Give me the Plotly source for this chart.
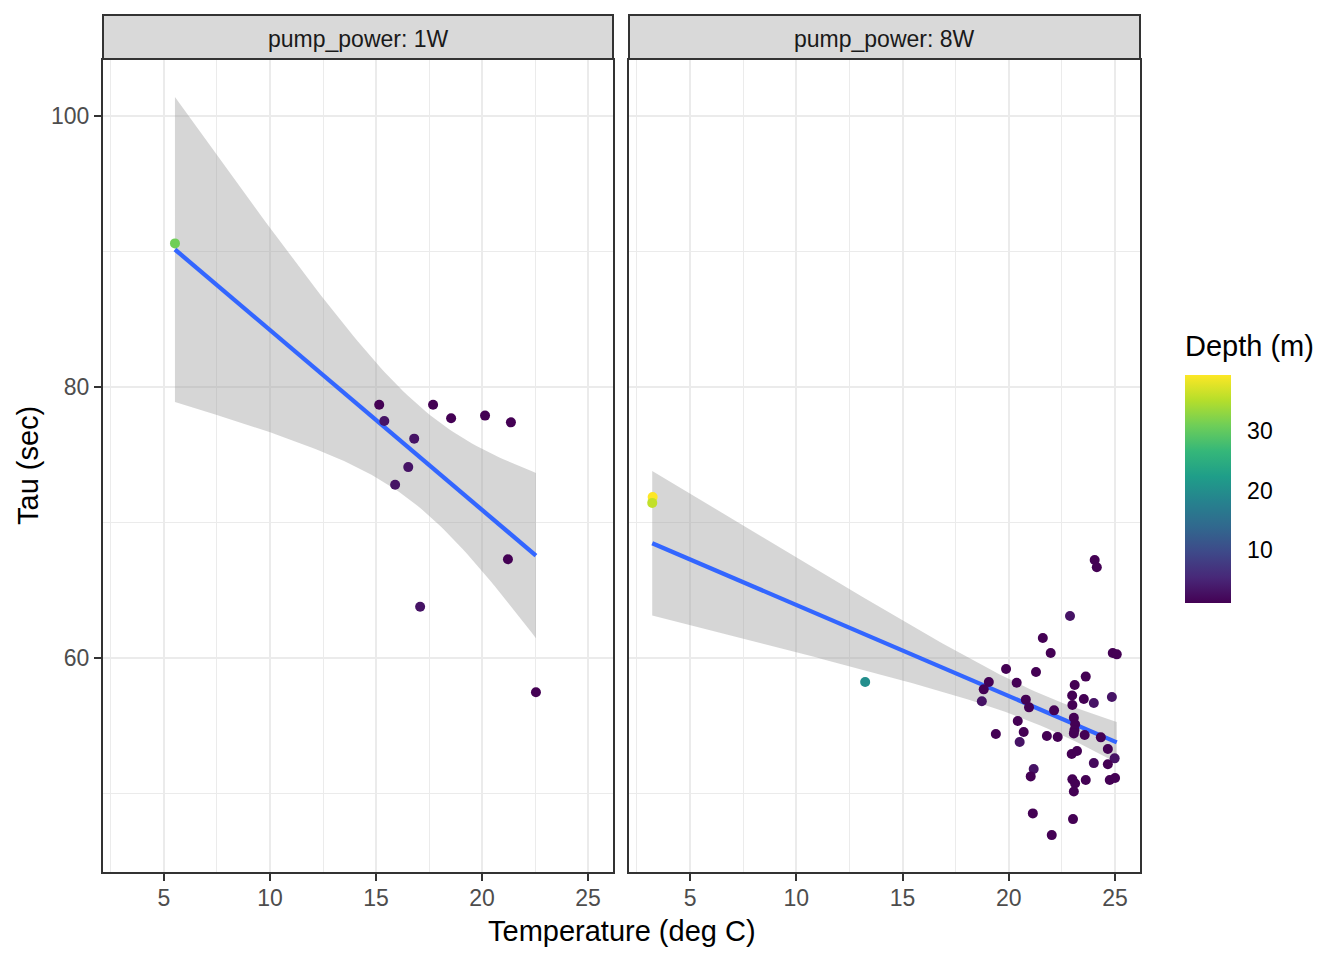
import math
import numpy as np
import plotly.graph_objects as go

# ---------------- data ----------------
panel_labels = ["pump_power: 1W", "pump_power: 8W"]

temp_1w = [5.52, 15.15, 15.39, 17.69, 18.54, 20.14, 21.36, 16.80, 16.52, 15.90, 21.22, 17.08, 22.54]
tau_1w = [90.6, 78.7, 77.5, 78.7, 77.7, 77.9, 77.4, 76.2, 74.1, 72.8, 67.3, 63.8, 57.5]
depth_1w = [31.0, 1.0, 3.0, 1.0, 1.0, 1.0, 1.0, 3.0, 3.0, 3.0, 1.0, 3.0, 1.0]

temp_8w = [3.24, 3.22, 13.24,
           24.04, 24.14, 22.88, 21.60, 21.97, 24.89, 25.08, 19.87, 21.28, 19.06,
           18.82, 18.73, 20.37, 23.62, 23.10, 22.98, 23.53, 24.00, 24.85, 22.99,
           20.80, 20.95, 22.13, 23.06, 23.12, 23.09, 23.06, 23.57, 24.33, 20.42,
           19.39, 20.70, 20.51, 21.79, 22.30, 24.66, 22.96, 23.21, 24.98, 24.00,
           24.66, 21.17, 21.03, 22.99, 23.12, 23.62, 24.75, 25.00, 23.06, 21.13,
           23.02, 22.02]
tau_8w = [71.9, 71.46, 58.25,
          67.25, 66.72, 63.12, 61.50, 60.39, 60.39, 60.29, 59.21, 58.99, 58.25,
          57.71, 56.83, 58.20, 58.65, 58.03, 57.25, 57.00, 56.70, 57.14, 56.56,
          56.95, 56.38, 56.16, 55.62, 55.13, 54.71, 54.46, 54.34, 54.17, 55.37,
          54.41, 54.56, 53.82, 54.27, 54.19, 53.31, 52.94, 53.16, 52.62, 52.27,
          52.18, 51.83, 51.29, 51.07, 50.77, 51.02, 51.02, 51.17, 50.18, 48.56,
          48.14, 46.96]
depth_8w = [39.5, 36.0, 20.0,
            1.0, 1.0, 3.0, 1.0, 1.0, 1.0, 1.0, 1.0, 1.0, 1.0,
            1.0, 3.0, 1.0, 1.0, 1.0, 1.0, 1.0, 3.0, 3.0, 1.0,
            1.0, 1.0, 1.0, 1.0, 1.0, 1.0, 1.0, 1.0, 1.0, 1.0,
            1.0, 1.0, 3.0, 1.0, 1.0, 1.0, 1.0, 1.0, 3.0, 2.0,
            1.0, 3.0, 1.0, 1.0, 1.0, 1.0, 1.0, 1.0, 1.0, 1.0,
            1.0, 1.0]

x_breaks = [5, 10, 15, 20, 25]
y_breaks = [60, 80, 100]
depth_breaks = [10, 20, 30]


# ---------------- linear fit with 95% CI (like geom_smooth(method="lm")) ----------------
def t_quantile(p, df):
    c = math.exp(math.lgamma((df + 1) / 2) - math.lgamma(df / 2)) / math.sqrt(df * math.pi)

    def cdf(t):
        g = np.linspace(0, t, 4001)
        return 0.5 + np.trapezoid(c * (1 + g ** 2 / df) ** (-(df + 1) / 2), g)

    lo, hi = 0.0, 20.0
    for _ in range(80):
        mid = (lo + hi) / 2
        if cdf(mid) < p:
            lo = mid
        else:
            hi = mid
    return (lo + hi) / 2


def lm_fit(x, y, n_out=80):
    x = np.asarray(x, float)
    y = np.asarray(y, float)
    n = len(x)
    xb = x.mean()
    sxx = ((x - xb) ** 2).sum()
    b1 = ((x - xb) * (y - y.mean())).sum() / sxx
    b0 = y.mean() - b1 * xb
    s2 = ((y - (b0 + b1 * x)) ** 2).sum() / (n - 2)
    xs = np.linspace(x.min(), x.max(), n_out)
    yh = b0 + b1 * xs
    se = np.sqrt(s2 * (1 / n + (xs - xb) ** 2 / sxx))
    t = t_quantile(0.975, n - 2)
    return xs, yh, yh - t * se, yh + t * se


fit1 = lm_fit(temp_1w, tau_1w)
fit8 = lm_fit(temp_8w, tau_8w)

all_x = np.concatenate([temp_1w, temp_8w])
all_y = np.concatenate([tau_1w, tau_8w, fit1[2], fit1[3], fit8[2], fit8[3]])
xr = [all_x.min() - 0.05 * np.ptp(all_x), all_x.max() + 0.05 * np.ptp(all_x)]
yr = [all_y.min() - 0.05 * np.ptp(all_y), all_y.max() + 0.05 * np.ptp(all_y)]
all_d = np.concatenate([depth_1w, depth_8w])
cmin, cmax = float(all_d.min()), float(all_d.max())

# ---------------- layout geometry (pixels in the 1344x960 window) ----------------
OFF = 8  # default page body margin
W, H = 1344 - OFF, 960 - OFF
P1 = (103, 613)
P2 = (629, 1140)
PT, PB = 60, 872
STRIP_T = 15
CB_X0, CB_W, CB_T, CB_B = 1185, 46, 375, 603


def fx(p):
    return (p - OFF) / W


def fy(p):
    return 1 - (p - OFF) / H


FONT = "Liberation Sans, Arial, sans-serif"

fig = go.Figure()

for i, (fit, tx, ty, td) in enumerate([(fit1, temp_1w, tau_1w, depth_1w),
                                        (fit8, temp_8w, tau_8w, depth_8w)]):
    xa = "x" if i == 0 else "x2"
    ya = "y" if i == 0 else "y2"
    xs, yh, lo, hi = fit
    fig.add_trace(go.Scatter(x=np.concatenate([xs, xs[::-1]]),
                             y=np.concatenate([hi, lo[::-1]]),
                             mode="lines", fill="toself", xaxis=xa, yaxis=ya,
                             fillcolor="rgba(153,153,153,0.4)", line=dict(width=0),
                             showlegend=False, hoverinfo="skip"))
    fig.add_trace(go.Scatter(x=xs, y=yh, mode="lines", xaxis=xa, yaxis=ya,
                             line=dict(color="#3366FF", width=4.3),
                             showlegend=False, hoverinfo="skip"))
    fig.add_trace(go.Scatter(x=tx, y=ty, mode="markers", xaxis=xa, yaxis=ya,
                             marker=dict(size=10, color=td, coloraxis="coloraxis",
                                         line=dict(width=0)),
                             showlegend=False, hoverinfo="skip"))

axis_common = dict(showline=True, mirror=True, linecolor="#333333", linewidth=2,
                   zeroline=False, tickfont=dict(family=FONT, size=23, color="#4d4d4d"),
                   tickcolor="#333333", tickwidth=2, ticklen=7,
                   showgrid=True, gridcolor="#ebebeb", gridwidth=2)

xaxis_common = dict(range=xr, tickmode="array", tickvals=x_breaks,
                    ticktext=[str(v) for v in x_breaks], ticks="outside",
                    ticklabelstandoff=-3,
                    minor=dict(tickmode="linear", tick0=2.5, dtick=5, showgrid=True,
                               gridcolor="#ebebeb", gridwidth=1.2, ticks=""),
                    **axis_common)
yaxis_minor = dict(tickmode="linear", tick0=50, dtick=20, showgrid=True,
                   gridcolor="#ebebeb", gridwidth=1.2, ticks="")

fig.update_layout(
    width=W, height=H,
    margin=dict(l=0, r=0, t=0, b=0),
    paper_bgcolor="white", plot_bgcolor="white",
    font=dict(family=FONT, color="black"),
    xaxis=dict(domain=[fx(P1[0]), fx(P1[1])], anchor="y", **xaxis_common),
    xaxis2=dict(domain=[fx(P2[0]), fx(P2[1])], anchor="y2", matches="x", **xaxis_common),
    yaxis=dict(domain=[fy(PB), fy(PT)], anchor="x", range=yr, tickmode="array",
               tickvals=y_breaks, ticktext=[str(v) for v in y_breaks], ticks="outside",
               minor=yaxis_minor, **axis_common),
    yaxis2=dict(domain=[fy(PB), fy(PT)], anchor="x2", matches="y", range=yr,
                tickmode="array", tickvals=y_breaks, showticklabels=False, ticks="",
                minor=yaxis_minor, **axis_common),
    coloraxis=dict(
        colorscale="Viridis", cmin=cmin, cmax=cmax,
        colorbar=dict(
            thickness=CB_W, thicknessmode="pixels",
            len=CB_B - CB_T, lenmode="pixels",
            x=fx(CB_X0), xanchor="left", y=fy((CB_T + CB_B) / 2), yanchor="middle",
            xpad=0, ypad=0, outlinewidth=0,
            tickmode="array", tickvals=depth_breaks,
            ticktext=[str(v) for v in depth_breaks],
            ticks="outside", ticklen=12, tickcolor="rgba(0,0,0,0)",
            tickfont=dict(family=FONT, size=23, color="black"),
        ),
    ),
)

shapes = []
annotations = []
for (a, b), lab in zip([P1, P2], panel_labels):
    shapes.append(dict(type="rect", xref="paper", yref="paper",
                       x0=fx(a), x1=fx(b), y0=fy(PT - 1), y1=fy(STRIP_T),
                       fillcolor="#d9d9d9", line=dict(color="#333333", width=2), layer="above"))
    annotations.append(dict(text=lab, xref="paper", yref="paper",
                            x=fx((a + b) / 2), y=fy(39),
                            xanchor="center", yanchor="middle", showarrow=False,
                            font=dict(family=FONT, size=23, color="#1a1a1a")))

# white ticks on the colour bar (both sides)
for v in depth_breaks:
    yy = fy(CB_B - (v - cmin) / (cmax - cmin) * (CB_B - CB_T))
    for x0, x1 in [(CB_X0, CB_X0 + 8), (CB_X0 + CB_W - 8, CB_X0 + CB_W)]:
        shapes.append(dict(type="line", xref="paper", yref="paper",
                           x0=fx(x0), x1=fx(x1), y0=yy, y1=yy,
                           line=dict(color="white", width=1.5), layer="above"))

annotations.append(dict(text="Depth (m)", xref="paper", yref="paper",
                        x=fx(CB_X0 - 2), y=fy(346), xanchor="left", yanchor="middle",
                        showarrow=False, font=dict(family=FONT, size=29, color="black")))
annotations.append(dict(text="Temperature (deg C)", xref="paper", yref="paper",
                        x=fx((P1[0] + P2[1]) / 2), y=fy(931), xanchor="center",
                        yanchor="middle", showarrow=False,
                        font=dict(family=FONT, size=29, color="black")))
annotations.append(dict(text="Tau (sec)", xref="paper", yref="paper",
                        x=fx(28), y=fy((PT + PB) / 2), xanchor="center",
                        yanchor="middle", showarrow=False, textangle=-90,
                        font=dict(family=FONT, size=29, color="black")))

fig.update_layout(shapes=shapes, annotations=annotations)
fig.write_html("out.html")
